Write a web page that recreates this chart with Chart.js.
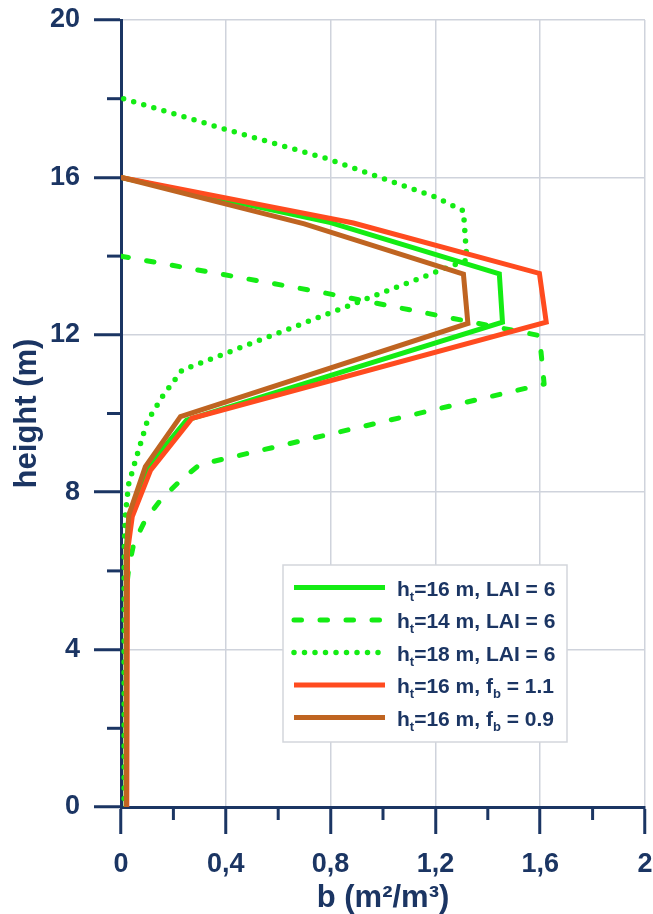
<!DOCTYPE html>
<html lang="en">
<head>
  <meta charset="UTF-8" />
  <title>b profile vs height</title>
  <script src="https://cdn.jsdelivr.net/npm/chart.js"></script>
  <style>
    body { margin: 0; background: #fff; }
    #wrap { width: 653px; height: 914px; position: relative; }
  </style>
</head>
<body>
<div id="wrap"><canvas id="profileChart"></canvas></div>

<script>
  // --- data ---
  const ht16X = [0, 0.80, 1.444, 1.456, 0.25, 0.10, 0.03, 0.02, 0.02];
  const ht16Y = [16, 14.85, 13.55, 12.32, 9.83, 8.62, 7.4, 6.5, 0];

  const ht14X = [0, 0.75, 1.597, 1.615, 0.30, 0.227, 0.151, 0.093, 0.049, 0.03, 0.02, 0.02];
  const ht14Y = [14, 13.1, 11.98, 10.75, 8.7, 8.3, 7.8, 7.3, 6.7, 6.1, 5.5, 0];

  const ht18X = [0.01, 0.40, 0.79, 1.20, 1.307, 1.32, 0.233, 0.162, 0.10, 0.055, 0.029, 0.017, 0.012, 0.012];
  const ht18Y = [18, 17.22, 16.47, 15.5, 15.15, 13.9, 11.1, 10.47, 9.8, 8.8, 8.2, 7.45, 6.5, 0];

  const fb11X = [0, 0.887, 1.597, 1.623, 0.271, 0.113, 0.043, 0.025, 0.022];
  const fb11Y = [16, 14.84, 13.56, 12.32, 9.88, 8.56, 7.38, 6.5, 0];

  const fb09X = [0, 0.70, 1.307, 1.324, 0.227, 0.093, 0.03, 0.022, 0.02];
  const fb09Y = [16, 14.82, 13.54, 12.29, 9.92, 8.65, 7.42, 6.6, 0];

  // "_x" marks a one-letter subscript
  const legendLabels = [
    'h_t=16 m, LAI = 6',
    'h_t=14 m, LAI = 6',
    'h_t=18 m, LAI = 6',
    'h_t=16 m, f_b = 1.1',
    'h_t=16 m, f_b = 0.9'
  ];

  const navy = '#1b3563';
  const gridColor = '#cfd3dc';
  const fontFamily = "'Liberation Sans', Arial, sans-serif";

  const pts = (xs, ys) => xs.map((x, i) => ({ x: x, y: ys[i] }));
  const isMajorX = v => Math.round(v * 5) % 2 === 0;
  const isMajorY = v => Math.round(v) % 4 === 0;

  // keep the plot area where the layout padding puts it
  const noOverflow = scale => {
    scale.paddingLeft = 0; scale.paddingRight = 0;
    scale.paddingTop = 0; scale.paddingBottom = 0;
  };

  // minor ticks (shorter) drawn on the axes
  const minorTicks = {
    id: 'minorTicks',
    afterDraw(chart) {
      const { ctx, chartArea, scales } = chart;
      ctx.save();
      ctx.strokeStyle = navy;
      ctx.lineWidth = 3;
      scales.x.ticks.forEach(t => {
        if (isMajorX(t.value)) return;
        const px = scales.x.getPixelForValue(t.value);
        ctx.beginPath();
        ctx.moveTo(px, chartArea.bottom);
        ctx.lineTo(px, chartArea.bottom + 13);
        ctx.stroke();
      });
      scales.y.ticks.forEach(t => {
        if (isMajorY(t.value)) return;
        const py = scales.y.getPixelForValue(t.value);
        ctx.beginPath();
        ctx.moveTo(chartArea.left - 14, py);
        ctx.lineTo(chartArea.left, py);
        ctx.stroke();
      });
      ctx.restore();
    }
  };

  // legend box with subscripts
  const legendBox = {
    id: 'legendBox',
    afterDatasetsDraw(chart) {
      const ctx = chart.ctx;
      const x0 = 283, y0 = 565, w = 284, h = 177;
      ctx.save();
      ctx.fillStyle = '#fff';
      ctx.fillRect(x0, y0, w, h);
      ctx.strokeStyle = '#d3d6dc';
      ctx.lineWidth = 1.5;
      ctx.strokeRect(x0, y0, w, h);
      legendLabels.forEach((lab, i) => {
        const ds = chart.data.datasets[i];
        const y = 587.5 + i * 32.5;
        ctx.strokeStyle = ds.borderColor;
        ctx.lineWidth = ds.borderWidth;
        ctx.lineCap = ds.borderCapStyle || 'butt';
        ctx.setLineDash(ds.borderDash || []);
        ctx.beginPath();
        ctx.moveTo(294, y);
        ctx.lineTo(385, y);
        ctx.stroke();
        ctx.setLineDash([]);

        ctx.fillStyle = navy;
        ctx.textBaseline = 'alphabetic';
        let x = 397;
        const parts = lab.split('_');
        parts.forEach((p, j) => {
          let txt = p;
          if (j > 0) {
            ctx.font = 'bold 13px ' + fontFamily;
            ctx.fillText(p[0], x, y + 13);
            x += ctx.measureText(p[0]).width;
            txt = p.slice(1);
          }
          ctx.font = 'bold 21px ' + fontFamily;
          ctx.fillText(txt, x, y + 8);
          x += ctx.measureText(txt).width;
        });
      });
      ctx.restore();
    }
  };

  const lineDs = (label, xs, ys, color, extra) => Object.assign({
    label: label,
    data: pts(xs, ys),
    showLine: true,
    borderColor: color,
    backgroundColor: color,
    borderWidth: 5,
    pointRadius: 0,
    borderJoinStyle: 'miter',
    fill: false
  }, extra || {});

  new Chart(document.getElementById('profileChart'), {
    type: 'scatter',
    data: {
      datasets: [
        lineDs('ht=16 m, LAI = 6', ht16X, ht16Y, '#14ec14', { order: 2 }),
        lineDs('ht=14 m, LAI = 6', ht14X, ht14Y, '#14ec14', { order: 4, borderDash: [7.5, 18.5], borderCapStyle: 'round', borderJoinStyle: 'round' }),
        lineDs('ht=18 m, LAI = 6', ht18X, ht18Y, '#14ec14', { order: 3, borderDash: [0, 10.5], borderCapStyle: 'round', borderJoinStyle: 'round', borderWidth: 5.5 }),
        lineDs('ht=16 m, fb = 1.1', fb11X, fb11Y, '#ff4b1f', { order: 1 }),
        lineDs('ht=16 m, fb = 0.9', fb09X, fb09Y, '#bf6421', { order: 0 })
      ]
    },
    options: {
      responsive: true,
      maintainAspectRatio: false,
      animation: false,
      layout: { padding: { left: 0, top: 20, right: 8, bottom: 0 } },
      plugins: {
        legend: { display: false },
        tooltip: { enabled: false }
      },
      scales: {
        x: {
          type: 'linear',
          min: 0,
          max: 2,
          afterFit(scale) { scale.height = 107; noOverflow(scale); },
          border: { display: true, color: navy, width: 3 },
          grid: {
            color: ctx => isMajorX(ctx.tick.value) ? gridColor : 'transparent',
            lineWidth: 1.5,
            drawTicks: true,
            tickLength: 27,
            tickWidth: 3,
            tickColor: ctx => isMajorX(ctx.tick.value) ? navy : 'transparent'
          },
          ticks: {
            stepSize: 0.2,
            autoSkip: false,
            maxRotation: 0,
            padding: 14,
            color: navy,
            font: { family: fontFamily, size: 27, weight: 'bold' },
            callback: v => isMajorX(v) ? String(Math.round(v * 5) / 5).replace('.', ',') : ''
          },
          title: {
            display: true,
            text: 'b (m²/m³)',
            color: navy,
            font: { family: fontFamily, size: 31, weight: 'bold', lineHeight: 1.2 },
            padding: { top: 0, bottom: -3 }
          }
        },
        y: {
          type: 'linear',
          min: 0,
          max: 20,
          afterFit(scale) { scale.width = 121; noOverflow(scale); },
          border: { display: true, color: navy, width: 3 },
          grid: {
            color: ctx => isMajorY(ctx.tick.value) ? gridColor : 'transparent',
            lineWidth: 1.5,
            drawTicks: true,
            tickLength: 27,
            tickWidth: 3,
            tickColor: ctx => isMajorY(ctx.tick.value) ? navy : 'transparent'
          },
          ticks: {
            stepSize: 2,
            autoSkip: false,
            padding: 14,
            color: navy,
            font: { family: fontFamily, size: 27, weight: 'bold' },
            callback: v => isMajorY(v) ? String(v) : ''
          },
          title: {
            display: true,
            text: 'height (m)',
            color: navy,
            font: { family: fontFamily, size: 31, weight: 'bold', lineHeight: 1.2 },
            padding: { top: 9, bottom: 0 }
          }
        }
      }
    },
    plugins: [legendBox, minorTicks]
  });
</script>
</body>
</html>
